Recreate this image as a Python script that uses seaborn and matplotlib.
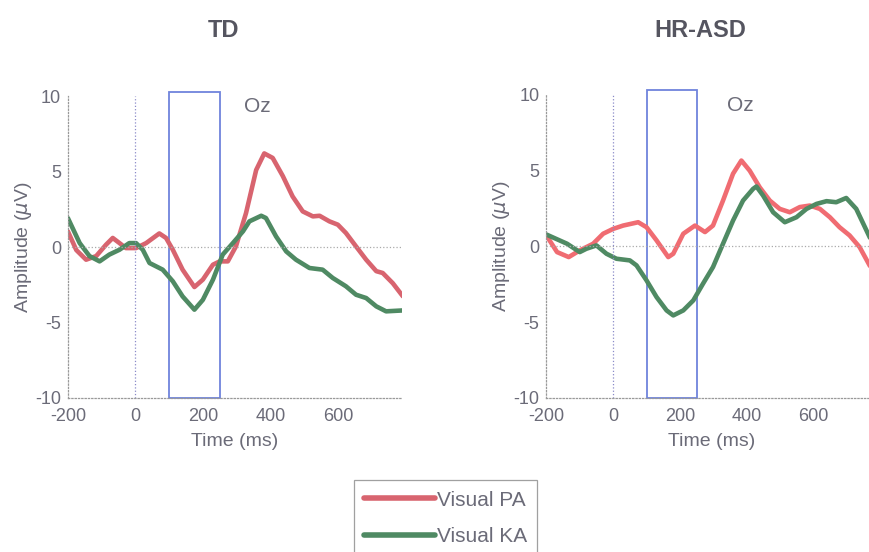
import pandas as pd
import matplotlib.pyplot as plt
import seaborn as sns
from matplotlib.patches import Rectangle

# TD panel, Visual PA (red)
td_pa_t = [-200, -175, -146, -116, -87, -67, -47, -28, 2, 32, 71, 91, 111, 140, 175, 200, 230, 250,
           274, 298, 328, 358, 382, 407, 437, 466, 496, 526, 546, 575, 600, 624, 654, 684, 714, 733, 763, 793]
td_pa_v = [1.04, -0.2, -0.84, -0.6, 0.15, 0.6, 0.26, -0.07, -0.07, 0.26, 0.9, 0.6, -0.18, -1.5, -2.65, -2.16,
           -1.17, -0.95, -0.95, 0.04, 2.25, 5.1, 6.2, 5.9, 4.7, 3.35, 2.36, 2.03, 2.07, 1.7, 1.48, 0.93, 0.04,
           -0.84, -1.6, -1.72, -2.4, -3.27]

# TD panel, Visual KA (green)
td_ka_t = [-200, -165, -136, -106, -77, -47, -18, 2, 22, 42, 81, 111, 140, 175, 200, 230, 259, 289, 319,
           338, 373, 387, 417, 447, 476, 516, 555, 585, 624, 654, 684, 714, 743, 793]
td_ka_v = [1.92, 0.26, -0.6, -0.95, -0.5, -0.18, 0.26, 0.26, -0.18, -1.06, -1.5, -2.27, -3.27, -4.15, -3.5,
           -2.16, -0.5, 0.26, 1.04, 1.7, 2.07, 1.92, 0.7, -0.29, -0.84, -1.39, -1.5, -2.05, -2.6, -3.16, -3.38,
           -3.93, -4.26, -4.2]

# HR-ASD panel, Visual PA (red)
hr_pa_t = [-200, -168, -133, -100, -60, -30, 0, 30, 75, 100, 130, 165, 180, 210, 245, 275, 299, 329, 359,
           384, 409, 439, 469, 499, 529, 559, 589, 619, 649, 678, 708, 738, 768, 790]
hr_pa_v = [0.73, -0.37, -0.7, -0.26, 0.18, 0.84, 1.16, 1.38, 1.6, 1.27, 0.4, -0.7, -0.48, 0.84, 1.38, 0.95,
           1.38, 3.03, 4.8, 5.67, 5.0, 3.9, 3.03, 2.48, 2.26, 2.6, 2.7, 2.48, 1.93, 1.27, 0.73, -0.04, -1.25, -2.0]

# HR-ASD panel, Visual KA (green)
hr_ka_t = [-200, -138, -100, -80, -50, -20, 10, 50, 70, 100, 130, 160, 180, 210, 240, 269, 299, 329, 359,
           389, 419, 429, 449, 479, 514, 549, 579, 609, 639, 668, 698, 728, 768, 790]
hr_ka_v = [0.79, 0.18, -0.37, -0.15, 0.07, -0.48, -0.81, -0.92, -1.25, -2.24, -3.34, -4.22, -4.55, -4.22,
           -3.56, -2.46, -1.36, 0.18, 1.71, 3.03, 3.8, 3.96, 3.36, 2.26, 1.6, 1.93, 2.48, 2.81, 2.99, 2.92,
           3.2, 2.48, 0.62, -0.3]

panels = ["TD", "HR-ASD"]
conditions = ["Visual PA", "Visual KA"]
window = (100, 250)
x_ticks = [-200, 0, 200, 400, 600]
y_ticks = [-10, -5, 0, 5, 10]

sns.set_style("white")
plt.rcParams['font.family'] = ['Liberation Sans', 'DejaVu Sans']
plt.rcParams['axes.unicode_minus'] = False

text_col = "#6b6b78"
colors = {"TD": ["#d8646f", "#4f8a63"], "HR-ASD": ["#f06c72", "#4f8a63"]}
series = {"TD": [(td_pa_t, td_pa_v), (td_ka_t, td_ka_v)],
          "HR-ASD": [(hr_pa_t, hr_pa_v), (hr_ka_t, hr_ka_v)]}
oz_x = {"TD": 322, "HR-ASD": 340}
title_x = {"TD": 0.257, "HR-ASD": 0.805}

fig = plt.figure(figsize=(8.7, 5.52), dpi=100)
ax_pos = {"TD": [0.078, 0.279, 0.384, 0.547], "HR-ASD": [0.628, 0.279, 0.380, 0.549]}

for name in panels:
    ax = fig.add_axes(ax_pos[name])
    for (t, v), col, lab in zip(series[name], colors[name], conditions):
        sns.lineplot(x=t, y=v, ax=ax, color=col, linewidth=3.3, label=lab, legend=False)
    ax.axhline(0, color="#aaaaaa", linestyle=":", linewidth=0.9)
    ax.axvline(0, color="#8a8ac8", linestyle=":", linewidth=0.9)
    ax.add_patch(Rectangle((window[0], -10), window[1] - window[0], 20.3,
                           fill=False, edgecolor="#6f84dc", linewidth=1.3, clip_on=False))
    ax.text(oz_x[name], 9.3, "Oz", fontsize=15, color=text_col, va="center")
    ax.set_xlim(-200, 790)
    ax.set_ylim(-10, 10)
    ax.set_xticks(x_ticks)
    ax.set_yticks(y_ticks)
    ax.tick_params(axis="x", length=0, labelsize=13, labelcolor=text_col, pad=7)
    ax.tick_params(axis="y", length=0, labelsize=13, labelcolor=text_col, pad=5)
    ax.set_xlabel("Time (ms)", fontsize=14, color=text_col, labelpad=6)
    ax.set_ylabel(r"Amplitude ($\mu$V)", fontsize=14, color=text_col, labelpad=1)
    for s in ["top", "right"]:
        ax.spines[s].set_visible(False)
    for s in ["left", "bottom"]:
        ax.spines[s].set_linestyle(":")
        ax.spines[s].set_color("#999999")
        ax.spines[s].set_linewidth(0.9)
    fig.text(title_x[name], 0.945, name, fontsize=17, fontweight="bold",
             color="#555560", ha="center", va="center")

handles, labels = fig.axes[0].get_legend_handles_labels()
leg = fig.legend(handles, labels, loc="upper center", bbox_to_anchor=(0.512, 0.13),
                 borderaxespad=0, fontsize=15, handlelength=3.4, handletextpad=0.1,
                 frameon=True, fancybox=False, borderpad=0.5, labelspacing=0.85)
leg.get_frame().set_edgecolor("#888888")
leg.get_frame().set_linewidth(0.9)
for t in leg.get_texts():
    t.set_color(text_col)
for h in leg.get_lines():
    h.set_linewidth(4)

plt.savefig("out.png", dpi=100)
